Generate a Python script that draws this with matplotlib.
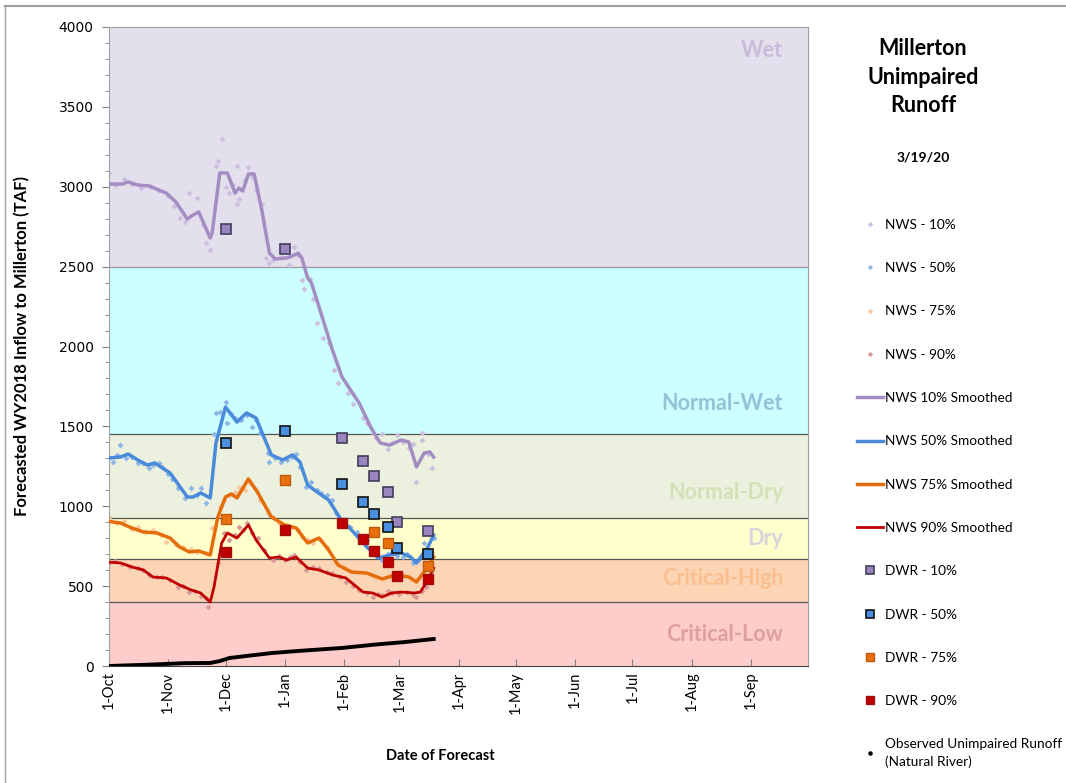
import matplotlib
matplotlib.use('Agg')
import matplotlib.pyplot as plt
from matplotlib.lines import Line2D
import numpy as np

plt.rcParams['font.family'] = ['Lato', 'DejaVu Sans']

# day offsets counted from 1-Oct-2019 (WY2020)
month_ticks = [0, 31, 61, 92, 123, 152, 183, 213, 244, 274, 305, 336]
month_labels = ['1-Oct', '1-Nov', '1-Dec', '1-Jan', '1-Feb', '1-Mar', '1-Apr',
                '1-May', '1-Jun', '1-Jul', '1-Aug', '1-Sep']

# water year type bands (TAF)
band_edges = [0, 400, 670, 925, 1450, 2500, 4000]
band_names = ['Critical-Low', 'Critical-High', 'Dry', 'Normal-Dry', 'Normal-Wet', 'Wet']
band_label_y = [200, 545, 801, 1083, 1646, 3856]

# smoothed NWS forecasts
s10_days = [0, 7, 10, 15, 21, 30, 35, 41, 44, 47, 53, 54, 58, 62, 66, 68, 70, 73, 76, 80, 84, 87,
            93, 96, 99, 101, 104, 106, 110, 117, 122, 131, 137, 142, 147, 153, 157, 161, 165, 168, 170]
s10_vals = [3017, 3017, 3030, 3011, 3005, 2960, 2905, 2798, 2823, 2842, 2679, 2710, 3086, 3086, 2960,
            2992, 2973, 3080, 3080, 2854, 2585, 2548, 2554, 2567, 2585, 2554, 2429, 2398, 2247, 1978,
            1809, 1646, 1496, 1396, 1383, 1415, 1402, 1246, 1333, 1340, 1308]

s50_days = [0, 6, 10, 15, 20, 24, 32, 41, 44, 48, 53, 56, 61, 67, 72, 77, 80, 85, 91, 96, 100, 104,
            109, 115, 121, 127, 135, 141, 147, 153, 158, 161, 167, 170]
s50_vals = [1302, 1308, 1327, 1290, 1258, 1271, 1208, 1058, 1058, 1083, 1052, 1396, 1621, 1527, 1584,
            1552, 1465, 1321, 1290, 1321, 1277, 1133, 1089, 1039, 926, 851, 745, 676, 695, 707, 682,
            645, 745, 820]

s75_days = [0, 6, 12, 18, 25, 32, 37, 42, 47, 53, 57, 61, 64, 67, 73, 78, 85, 92, 98, 104, 110, 115,
            120, 127, 135, 143, 150, 157, 161, 167, 170]
s75_vals = [905, 895, 864, 839, 833, 801, 745, 714, 720, 695, 933, 1058, 1077, 1052, 1171, 1083, 933,
            883, 864, 770, 801, 726, 632, 588, 582, 545, 570, 557, 526, 620, 682]

s90_days = [0, 6, 12, 18, 23, 30, 37, 43, 48, 53, 55, 59, 62, 64, 67, 73, 77, 84, 89, 93, 98, 104,
            110, 117, 124, 133, 138, 143, 148, 153, 160, 163, 167, 170]
s90_vals = [650, 645, 620, 601, 557, 551, 507, 476, 457, 400, 495, 770, 833, 820, 801, 883, 789, 676,
            682, 664, 682, 613, 601, 570, 551, 463, 457, 432, 457, 463, 457, 463, 538, 613]

# raw NWS forecasts (scatter)
p10_days = [0, 3, 8, 12, 17, 22, 26, 31, 34, 37, 40, 42, 46, 49, 51, 53, 56, 57, 59, 61, 63, 65,
            67, 67, 68, 71, 73, 75, 77, 80, 82, 84, 86, 90, 94, 97, 99, 101, 102, 105, 107, 109,
            112, 115, 118, 120, 125, 128, 133, 135, 138, 140, 143, 146, 148, 151, 154, 157, 159,
            161, 164, 164, 167, 169]
p10_vals = [3086, 3010, 3049, 3020, 2990, 3000, 2975, 2940, 2880, 2804, 2779, 2960, 2930, 2760,
            2648, 2604, 3130, 3161, 3299, 2998, 2960, 3010, 3130, 2892, 2923, 3040, 3124, 3060,
            2980, 2892, 2554, 2523, 2540, 2560, 2510, 2623, 2570, 2416, 2360, 2420, 2300, 2147,
            2053, 2022, 1853, 1772, 1709, 1640, 1552, 1520, 1458, 1430, 1452, 1360, 1396, 1446,
            1400, 1365, 1390, 1152, 1458, 1415, 1330, 1240]

p50_days = [0, 2, 4, 6, 9, 12, 15, 18, 21, 23, 26, 28, 31, 33, 36, 40, 43, 46, 48, 51, 55, 56, 58,
            61, 62, 64, 66, 69, 72, 75, 77, 79, 83, 84, 87, 90, 93, 96, 98, 100, 103, 106, 109,
            111, 114, 117, 119, 122, 126, 130, 132, 135, 138, 140, 143, 146, 148, 151, 154, 156,
            159, 162, 165, 168, 170]
p50_vals = [1302, 1277, 1320, 1383, 1300, 1310, 1270, 1271, 1240, 1258, 1270, 1246, 1200, 1170,
            1114, 1052, 1114, 1070, 1114, 1020, 1452, 1584, 1590, 1653, 1521, 1580, 1552, 1540,
            1570, 1496, 1540, 1458, 1333, 1277, 1300, 1280, 1290, 1308, 1330, 1246, 1121, 1150,
            1102, 1080, 1070, 1039, 960, 883, 870, 839, 800, 789, 740, 714, 664, 700, 714, 690,
            682, 700, 645, 664, 770, 707, 800]

p75_days = [0, 4, 8, 12, 15, 19, 23, 27, 30, 35, 39, 43, 46, 51, 54, 58, 60, 63, 66, 68, 71, 74,
            77, 79, 83, 86, 89, 93, 96, 99, 101, 104, 107, 111, 114, 119, 123, 126, 130, 133, 137,
            140, 144, 147, 150, 154, 158, 161, 164, 166, 169]
p75_vals = [933, 895, 910, 860, 870, 840, 851, 820, 776, 760, 745, 730, 714, 707, 864, 995, 1040,
            1070, 1090, 1121, 1100, 1146, 1110, 1039, 958, 930, 895, 880, 870, 850, 808, 790, 770,
            790, 745, 645, 620, 601, 590, 582, 570, 551, 545, 557, 575, 570, 560, 538, 580, 645,
            707]

p90_days = [0, 3, 7, 11, 15, 18, 21, 25, 28, 32, 36, 39, 42, 45, 48, 51, 52, 57, 60, 63, 66, 68,
            70, 72, 75, 78, 81, 86, 89, 92, 95, 97, 100, 103, 107, 110, 114, 117, 121, 124, 128,
            131, 135, 138, 141, 143, 146, 148, 152, 156, 159, 161, 164, 166, 169]
p90_vals = [645, 655, 640, 620, 615, 600, 570, 560, 557, 540, 495, 500, 463, 470, 440, 426, 369,
            645, 833, 789, 820, 870, 850, 895, 833, 800, 726, 664, 690, 664, 680, 695, 650, 601,
            620, 613, 590, 582, 560, 526, 500, 476, 455, 432, 450, 445, 470, 457, 450, 463, 445,
            432, 470, 495, 601]

# DWR forecasts
d10_days = [61, 92, 122, 133, 139, 146, 151, 167]
d10_vals = [2735, 2610, 1427, 1283, 1190, 1089, 901, 845]
d50_days = [61, 92, 122, 133, 139, 146, 151, 167]
d50_vals = [1396, 1471, 1139, 1027, 951, 870, 739, 701]
d75_days = [61, 92, 139, 146, 167]
d75_vals = [920, 1164, 839, 770, 626]
d90_days = [61, 92, 122, 133, 139, 146, 151, 167]
d90_vals = [714, 851, 895, 795, 720, 651, 563, 545]

# observed unimpaired runoff
obs_days = [0, 20, 40, 53, 58, 63, 70, 85, 100, 122, 140, 155, 170]
obs_vals = [0, 8, 18, 19, 31, 50, 60, 81, 95, 113, 135, 150, 169]

band_colors = ['#FFCCCC', '#FCD5B4', '#FFFFCC', '#EBF1DE', '#CCFFFF', '#E4DFEC']
band_text_colors = ['#DDA0A0', '#FBBF8F', '#D8D4DC', '#D3E2B6', '#93C3D6', '#C8BCDA']

fig = plt.figure(figsize=(10.66, 7.83), dpi=100)
ax = fig.add_axes([109 / 1066, 1 - 666 / 783, (808 - 109) / 1066, (666 - 27) / 783])

for i, name in enumerate(band_names):
    ax.axhspan(band_edges[i], band_edges[i + 1], color=band_colors[i], lw=0, zorder=0)
    ax.text(353, band_label_y[i], name, ha='right', va='center', fontsize=15.5,
            fontweight='bold', color=band_text_colors[i], zorder=1)
for e in band_edges[1:-1]:
    ax.axhline(e, color='#9A9A9A' if e == 2500 else '#555555', lw=0.9, zorder=1)

ax.plot(p10_days, p10_vals, ls='none', marker='D', ms=3, color='#CDBFE0', mew=0, zorder=2,
        label='NWS - 10%')
ax.plot(p50_days, p50_vals, ls='none', marker='D', ms=3, color='#8DB6E6', mew=0, zorder=2,
        label='NWS - 50%')
ax.plot(p75_days, p75_vals, ls='none', marker='D', ms=3, color='#F9C8A0', mew=0, zorder=2,
        label='NWS - 75%')
ax.plot(p90_days, p90_vals, ls='none', marker='D', ms=3, color='#D9999A', mew=0, zorder=2,
        label='NWS - 90%')

ax.plot(s10_days, s10_vals, color='#A48DC2', lw=2.5, zorder=3, label='NWS 10% Smoothed')
ax.plot(s50_days, s50_vals, color='#4A8ADB', lw=2.5, zorder=3, label='NWS 50% Smoothed')
ax.plot(s75_days, s75_vals, color='#E46C0A', lw=2.5, zorder=3, label='NWS 75% Smoothed')
ax.plot(s90_days, s90_vals, color='#C00000', lw=2.0, zorder=3, label='NWS 90% Smoothed')

ax.plot(d10_days, d10_vals, ls='none', marker='s', ms=7, mfc='#9B85C0', mec='#3F3F5A', mew=1.2,
        zorder=4, label='DWR - 10%')
ax.plot(d50_days, d50_vals, ls='none', marker='s', ms=7, mfc='#4A8FE0', mec='#111111', mew=1.2,
        zorder=4, label='DWR - 50%')
ax.plot(d75_days, d75_vals, ls='none', marker='s', ms=7, mfc='#E8700E', mec='#C05A10', mew=1.0,
        zorder=4, label='DWR - 75%')
ax.plot(d90_days, d90_vals, ls='none', marker='s', ms=7, mfc='#C00000', mec='#A01010', mew=1.0,
        zorder=4, label='DWR - 90%')

ax.plot(obs_days, obs_vals, color='black', lw=2.8, zorder=5)

ax.set_xlim(0, 366)
ax.set_ylim(0, 4000)
ax.set_xticks(month_ticks)
ax.set_xticklabels(month_labels, rotation=90, fontsize=10.5)
ax.set_yticks(np.arange(0, 4001, 500))
ax.set_yticks(np.arange(0, 4001, 100), minor=True)
for lab in ax.get_yticklabels():
    lab.set_fontfamily('DejaVu Sans')
    lab.set_fontsize(10)
ax.tick_params(axis='y', which='major', direction='out', length=5, color='#808080', pad=6)
ax.tick_params(axis='y', which='minor', direction='out', length=3, color='#808080')
ax.tick_params(axis='x', direction='in', length=5, color='#808080', pad=4)
for side in ['top', 'right', 'left']:
    ax.spines[side].set_color('#A0A0A0')
ax.spines['bottom'].set_color('#404040')

ax.set_xlabel('Date of Forecast', fontsize=10.5, fontweight='bold')
ax.xaxis.set_label_coords((440 - 109) / 699, -(749 - 666) / 639)
ax.set_ylabel('Forecasted WY2018 Inflow to Millerton (TAF)', fontsize=12, fontweight='bold')
ax.yaxis.set_label_coords(-(109 - 30) / 699, 0.5)

fig.text(923 / 1066, 1 - 77 / 783, 'Millerton\nUnimpaired\nRunoff', ha='center', va='center',
         fontsize=15.5, fontweight='bold', linespacing=1.45)
fig.text(923 / 1066, 1 - 157 / 783, '3/19/20', ha='center', va='center', fontsize=10,
         fontweight='bold')

handles, labels = ax.get_legend_handles_labels()
handles.append(Line2D([], [], ls='none', marker='.', ms=5, color='black'))
labels.append('Observed Unimpaired Runoff\n(Natural River)')
leg = fig.legend(handles, labels, loc='upper left', bbox_to_anchor=(850 / 1066, 1 - 212 / 783),
                 frameon=False, fontsize=9.8, labelspacing=2.3, handlelength=1.9,
                 handletextpad=0.15, borderpad=0, markerscale=0.9)
leg.get_texts()[-1].set_linespacing(1.45)

# outer frame
fig.add_artist(Line2D([5 / 1066, 5 / 1066], [0, 1 - 6 / 783], color='#A0A0A0', lw=1,
                      transform=fig.transFigure))
fig.add_artist(Line2D([5 / 1066, 1], [1 - 6 / 783, 1 - 6 / 783], color='#A0A0A0', lw=1.5,
                      transform=fig.transFigure))

fig.savefig('out.png', dpi=100)
